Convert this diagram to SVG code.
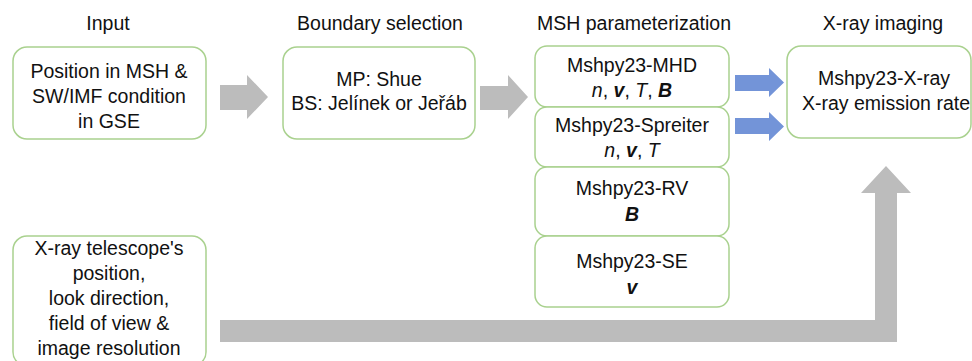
<svg xmlns="http://www.w3.org/2000/svg" width="972" height="361" viewBox="0 0 972 361">
<style>
text{font-family:"Liberation Sans",Arial,sans-serif;font-size:19.5px;fill:#111;text-anchor:middle}
.box{fill:#fff;stroke:#a9d18e;stroke-width:1.5}
.g{fill:#bcbcbc}
.b{fill:#7394d8}
.i{font-style:italic}
.bi{font-style:italic;font-weight:bold}
</style>
<rect width="972" height="361" fill="#fff"/>
<g id="titles">
<text x="108" y="30">Input</text>
<text x="380" y="30">Boundary selection</text>
<text x="634" y="30">MSH parameterization</text>
<text x="883" y="30">X-ray imaging</text>
</g>
<g id="connectors">
<path class="g" d="M220,85 L247,85 L247,75 L268,97 L247,119 L247,110 L220,110 Z"/>
<path class="g" d="M480,86 L508,86 L508,75 L528,97 L508,119 L508,110 L480,110 Z"/>
<path class="b" d="M735,75 L769,75 L769,68 L784,82.5 L769,97 L769,91 L735,91 Z"/>
<path class="b" d="M735,118 L769,118 L769,112 L784,126.5 L769,141 L769,134 L735,134 Z"/>
<path class="g" d="M220,320 L875,320 L875,193 L861,193 L886,166 L911,193 L897,193 L897,342 L220,342 Z"/>
</g>
<g id="input">
<rect class="box" x="13" y="47" width="193" height="92" rx="14"/>
<text x="109" y="78">Position in MSH &amp;</text>
<text x="109" y="103">SW/IMF condition</text>
<text x="109" y="128">in GSE</text>
</g>
<g id="boundary">
<rect class="box" x="283" y="47" width="192" height="92" rx="14"/>
<text x="379" y="86">MP: Shue</text>
<text x="379" y="110">BS: Jelínek or Jeřáb</text>
</g>
<g id="mhd">
<rect class="box" x="535" y="46" width="194" height="61" rx="12"/>
<text x="632" y="72">Mshpy23-MHD</text>
<text x="632" y="97"><tspan class="i">n</tspan>, <tspan class="bi">v</tspan>, <tspan class="i">T</tspan>, <tspan class="bi">B</tspan></text>
</g>
<g id="spreiter">
<rect class="box" x="535" y="107" width="194" height="60" rx="12"/>
<text x="632" y="132">Mshpy23-Spreiter</text>
<text x="632" y="157"><tspan class="i">n</tspan>, <tspan class="bi">v</tspan>, <tspan class="i">T</tspan></text>
</g>
<g id="rv">
<rect class="box" x="535" y="167" width="194" height="69" rx="12"/>
<text x="632" y="195">Mshpy23-RV</text>
<text x="632" y="221" class="bi">B</text>
</g>
<g id="se">
<rect class="box" x="535" y="236" width="194" height="71" rx="12"/>
<text x="632" y="268">Mshpy23-SE</text>
<text x="632" y="294" class="bi">v</text>
</g>
<g id="xray">
<rect class="box" x="787" y="46" width="184" height="92" rx="14"/>
<text x="884" y="85">Mshpy23-X-ray</text>
<text x="886" y="110">X-ray emission rate</text>
</g>
<g id="telescope">
<rect class="box" x="13" y="236" width="193" height="130" rx="14"/>
<text x="109" y="255">X-ray telescope's</text>
<text x="109" y="280">position,</text>
<text x="109" y="305">look direction,</text>
<text x="109" y="330">field of view &amp;</text>
<text x="109" y="355">image resolution</text>
</g>
</svg>
